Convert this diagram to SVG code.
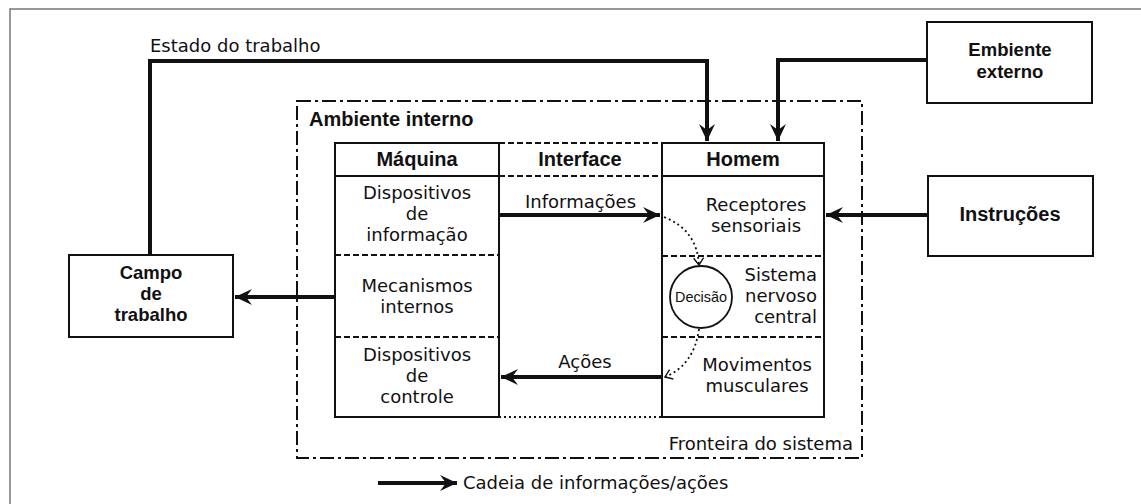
<svg xmlns="http://www.w3.org/2000/svg" width="1141" height="504" viewBox="0 0 1141 504">
<style>
text{fill:#111;}
.r{font-family:"DejaVu Sans","Liberation Sans",sans-serif;font-size:18px;}
.b{font-family:"Liberation Sans",Arial,sans-serif;font-size:20px;font-weight:bold;}
.b2{font-family:"Liberation Sans",Arial,sans-serif;font-size:18.5px;font-weight:bold;}
.m{text-anchor:middle;}
.e{text-anchor:end;}
.box{fill:#fff;stroke:#111;stroke-width:2;}
.thick{fill:none;stroke:#111;stroke-width:4;}
.dash{fill:none;stroke:#111;stroke-width:1.8;stroke-dasharray:6 3;}
.dot{fill:none;stroke:#111;stroke-width:1.8;stroke-dasharray:2 3;}
.dd{fill:none;stroke:#111;stroke-width:2;stroke-dasharray:14 4 3 4;}
.sol{fill:none;stroke:#111;stroke-width:2;}
</style>
<defs>
<marker id="ah" markerUnits="userSpaceOnUse" markerWidth="20" markerHeight="20" viewBox="-18 -9 20 18" refX="0" refY="0" orient="auto">
<path d="M0,0 L-17,-8 L-11,0 L-17,8 Z" fill="#111"/>
</marker>
<marker id="sa" markerUnits="userSpaceOnUse" markerWidth="12" markerHeight="12" viewBox="-8 -6 10 12" refX="0" refY="0" orient="auto">
<path d="M-7,-5 L0,0 L-7,5" fill="none" stroke="#111" stroke-width="1.4"/>
</marker>
</defs>
<rect width="1141" height="504" fill="#fff"/>
<g id="frame">
<path d="M10,504 V9 H1141" fill="none" stroke="#777" stroke-width="1.5"/>
</g>
<g id="ambiente-interno">
<rect x="297" y="101" width="565" height="357" class="dd"/>
<text x="309" y="126" class="b">Ambiente interno</text>
<text x="853" y="450" class="r e">Fronteira do sistema</text>
</g>
<g id="maquina">
<rect x="335" y="143" width="164" height="274" class="box"/>
<line x1="335" y1="176" x2="499" y2="176" class="sol"/>
<line x1="335" y1="255" x2="499" y2="255" class="dash"/>
<line x1="335" y1="337" x2="499" y2="337" class="dash"/>
<text x="417" y="166" class="b m">Máquina</text>
<text x="417" y="199" class="r m">Dispositivos</text>
<text x="417" y="220" class="r m">de</text>
<text x="417" y="241" class="r m">informação</text>
<text x="417" y="292" class="r m">Mecanismos</text>
<text x="417" y="313" class="r m">internos</text>
<text x="417" y="361" class="r m">Dispositivos</text>
<text x="417" y="382" class="r m">de</text>
<text x="417" y="403" class="r m">controle</text>
</g>
<g id="interface">
<line x1="499" y1="143" x2="662" y2="143" class="dash"/>
<line x1="499" y1="176" x2="662" y2="176" class="dash"/>
<line x1="499" y1="417" x2="662" y2="417" class="dot"/>
<text x="580" y="166" class="b m">Interface</text>
</g>
<g id="homem">
<rect x="662" y="143" width="162" height="274" class="box"/>
<line x1="662" y1="176" x2="824" y2="176" class="sol"/>
<line x1="662" y1="256" x2="824" y2="256" class="dash"/>
<line x1="662" y1="337" x2="824" y2="337" class="dash"/>
<text x="743" y="166" class="b m">Homem</text>
<text x="756" y="211" class="r m">Receptores</text>
<text x="756" y="232" class="r m">sensoriais</text>
<text x="817" y="281" class="r e">Sistema</text>
<text x="817" y="302" class="r e">nervoso</text>
<text x="817" y="323" class="r e">central</text>
<text x="757" y="371" class="r m">Movimentos</text>
<text x="757" y="392" class="r m">musculares</text>
</g>
<g id="decisao">
<circle cx="701" cy="297" r="31" fill="#fff" stroke="#111" stroke-width="1.8"/>
<text x="701" y="302" font-family="Liberation Sans, Arial, sans-serif" font-size="15" textLength="52" lengthAdjust="spacingAndGlyphs" class="m">Decisão</text>
</g>
<g id="campo">
<rect x="69" y="255" width="164" height="82" class="box"/>
<text x="151" y="279" class="b2 m">Campo</text>
<text x="151" y="300" class="b2 m">de</text>
<text x="151" y="321" class="b2 m">trabalho</text>
</g>
<g id="embiente">
<rect x="927" y="22" width="165" height="81" class="box"/>
<text x="1010" y="56" class="b2 m">Embiente</text>
<text x="1010" y="78" class="b2 m">externo</text>
</g>
<g id="instrucoes">
<rect x="928" y="176" width="165" height="80" class="box"/>
<text x="1010" y="221" class="b m">Instruções</text>
</g>
<g id="connectors">
<path d="M150,255 V61 H707 V141" class="thick" marker-end="url(#ah)"/>
<text x="150" y="52" class="r">Estado do trabalho</text>
<path d="M927,60 H778 V141" class="thick" marker-end="url(#ah)"/>
<path d="M928,215 H826" class="thick" marker-end="url(#ah)"/>
<path d="M499,215 H660" class="thick" marker-end="url(#ah)"/>
<text x="525" y="208" class="r">Informações</text>
<path d="M662,377 H501" class="thick" marker-end="url(#ah)"/>
<text x="585" y="368" class="r m">Ações</text>
<path d="M335,297 H235" class="thick" marker-end="url(#ah)"/>
<path d="M664,217 Q697,230 699,265" class="dot" marker-end="url(#sa)"/>
<path d="M699,329 Q694,365 665,377" class="dot" marker-end="url(#sa)"/>
</g>
<g id="legend">
<path d="M378,483 H457" class="thick" marker-end="url(#ah)"/>
<text x="463" y="489" class="r">Cadeia de informações/ações</text>
</g>
</svg>
